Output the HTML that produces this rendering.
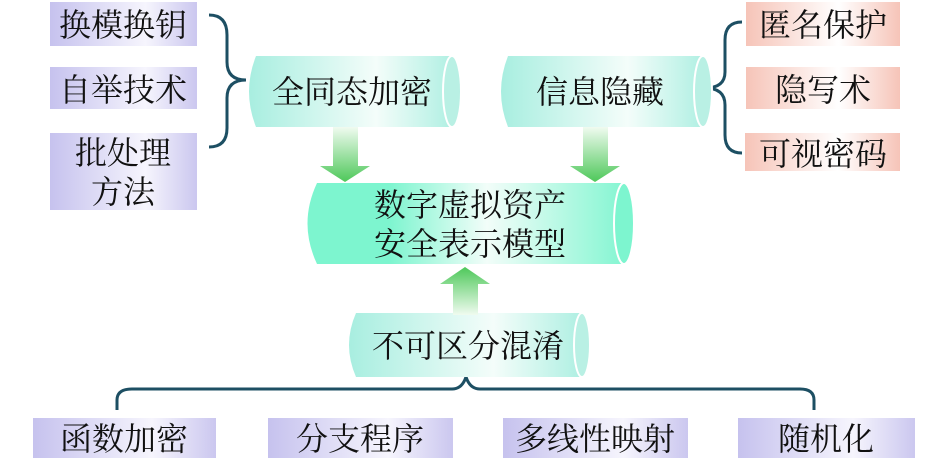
<!DOCTYPE html>
<html><head><meta charset="utf-8"><style>
html,body{margin:0;padding:0;background:#fff;}
svg text{font-family:"Liberation Serif","Noto Serif CJK SC","Noto Sans CJK SC",serif;fill:#111;}
</style></head><body>
<svg width="945" height="461" viewBox="0 0 945 461" xmlns="http://www.w3.org/2000/svg">
<defs>
<linearGradient id="lav" x1="0" x2="1" y1="0" y2="0">
<stop offset="0" stop-color="#c6c2ee"/><stop offset="0.65" stop-color="#f6f5fd"/><stop offset="1" stop-color="#cbc7ef"/>
</linearGradient>
<linearGradient id="pink" x1="0" x2="1" y1="0" y2="0">
<stop offset="0" stop-color="#f6c4b8"/><stop offset="0.6" stop-color="#fff"/><stop offset="1" stop-color="#f6c4b8"/>
</linearGradient>
<linearGradient id="cy1" x1="0" x2="1" y1="0" y2="0">
<stop offset="0" stop-color="#a8eee0"/><stop offset="0.6" stop-color="#f4fdfa"/><stop offset="1" stop-color="#a8eee0"/>
</linearGradient>
<linearGradient id="cy2" x1="0" x2="1" y1="0" y2="0">
<stop offset="0" stop-color="#7df5cf"/><stop offset="0.25" stop-color="#7df5cf"/><stop offset="0.55" stop-color="#f2fdf9"/><stop offset="1" stop-color="#7df5cf"/>
</linearGradient>
<linearGradient id="arD" x1="0" x2="0" y1="0" y2="1">
<stop offset="0" stop-color="#f0fbf0"/><stop offset="1" stop-color="#4ec85a"/>
</linearGradient>
<linearGradient id="arU" x1="0" x2="0" y1="1" y2="0">
<stop offset="0" stop-color="#f0fbf0"/><stop offset="1" stop-color="#4ec85a"/>
</linearGradient>
</defs>

<rect x="50" y="2" width="147" height="44" fill="url(#lav)"/>
<rect x="50" y="67" width="147" height="42" fill="url(#lav)"/>
<rect x="50" y="133" width="147" height="77" fill="url(#lav)"/>
<text x="123" y="36" font-size="32" text-anchor="middle">换模换钥</text>
<text x="123" y="101" font-size="32" text-anchor="middle">自举技术</text>
<text x="123" y="164" font-size="32" text-anchor="middle">批处理</text>
<text x="123" y="203" font-size="32" text-anchor="middle">方法</text>

<rect x="746" y="2" width="154" height="44" fill="url(#pink)"/>
<rect x="746" y="67" width="154" height="42" fill="url(#pink)"/>
<rect x="745" y="133" width="155" height="38" fill="url(#pink)"/>
<text x="823" y="36" font-size="32" text-anchor="middle">匿名保护</text>
<text x="823" y="101" font-size="32" text-anchor="middle">隐写术</text>
<text x="823" y="165" font-size="32" text-anchor="middle">可视密码</text>

<g fill="none" stroke="#1d4f63" stroke-width="3">
<path d="M209,15 Q227,15 227,35 L227,62 Q227,80 246,80 Q227,80 227,98 L227,128 Q227,147 209,147"/>
<path d="M742,22 Q725,22 725,40 L725,72 Q725,88 705,88 Q725,88 725,105 L725,135 Q725,153 742,153"/>
<path d="M117,410 L117,400 Q117,389 132,389 L452,389 Q462,389 466,377 Q470,389 480,389 L800,389 Q814,389 814,400 L814,410"/>
</g>

<g>
<path d="M256,56 L452,56 A9,35.5 0 0 1 452,127 L256,127 Q242,91.5 256,56 Z" fill="url(#cy1)"/>
<path d="M452,56 A9,35.5 0 0 1 452,127 A9,35.5 0 0 1 452,56 Z" fill="#b9f0e4" stroke="#fff" stroke-width="2"/>
<text x="352" y="103" font-size="32" text-anchor="middle">全同态加密</text>

<path d="M508,56 L703,56 A9,35.5 0 0 1 703,127 L508,127 Q494,91.5 508,56 Z" fill="url(#cy1)"/>
<path d="M703,56 A9,35.5 0 0 1 703,127 A9,35.5 0 0 1 703,56 Z" fill="#b9f0e4" stroke="#fff" stroke-width="2"/>
<text x="600" y="103" font-size="32" text-anchor="middle">信息隐藏</text>

<path d="M317,183 L624,183 A10,40.5 0 0 1 624,264 L317,264 Q298,223.5 317,183 Z" fill="url(#cy2)"/>
<path d="M624,183 A10,40.5 0 0 1 624,264 A10,40.5 0 0 1 624,183 Z" fill="#7df5cf" stroke="#fff" stroke-width="2"/>
<text x="470" y="216" font-size="32" text-anchor="middle">数字虚拟资产</text>
<text x="470" y="255" font-size="32" text-anchor="middle">安全表示模型</text>

<path d="M356,313 L582,313 A8,32 0 0 1 582,377 L356,377 Q342,345 356,313 Z" fill="url(#cy1)"/>
<path d="M582,313 A8,32 0 0 1 582,377 A8,32 0 0 1 582,313 Z" fill="#b9f0e4" stroke="#fff" stroke-width="2"/>
<text x="468" y="357" font-size="32" text-anchor="middle">不可区分混淆</text>
</g>

<path d="M333,127 L358,127 L358,166 L370,166 L345,182 L320,166 L333,166 Z" fill="url(#arD)"/>
<path d="M583,127 L608,127 L608,166 L620,166 L595,182 L570,166 L583,166 Z" fill="url(#arD)"/>
<path d="M453,315 L478,315 L478,284 L490,284 L465,267 L440,284 L453,284 Z" fill="url(#arU)"/>

<rect x="33" y="418" width="183" height="40" fill="url(#lav)"/>
<rect x="268" y="418" width="185" height="40" fill="url(#lav)"/>
<rect x="503" y="418" width="185" height="40" fill="url(#lav)"/>
<rect x="738" y="418" width="177" height="40" fill="url(#lav)"/>
<text x="124" y="450" font-size="32" text-anchor="middle">函数加密</text>
<text x="360" y="450" font-size="32" text-anchor="middle">分支程序</text>
<text x="595" y="450" font-size="32" text-anchor="middle">多线性映射</text>
<text x="826" y="450" font-size="32" text-anchor="middle">随机化</text>
</svg>
</body></html>
